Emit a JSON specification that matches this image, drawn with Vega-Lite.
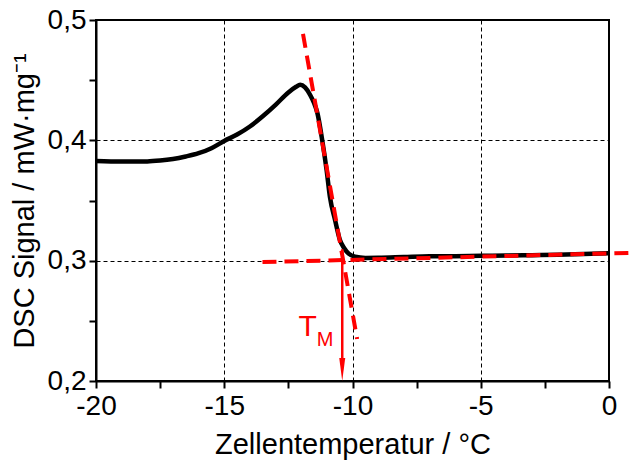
{
  "$schema": "https://vega.github.io/schema/vega-lite/v6.json",
  "width": 513,
  "height": 361,
  "autosize": "none",
  "padding": {"left": 96, "top": 20, "right": 27, "bottom": 84},
  "background": "white",
  "config": {
    "view": {"stroke": "black", "strokeWidth": 2},
    "font": "Liberation Sans",
    "axis": {
      "labelFont": "Liberation Sans",
      "titleFont": "Liberation Sans",
      "labelFontSize": 28,
      "titleFontSize": 29,
      "titleFontWeight": "normal",
      "labelColor": "black",
      "titleColor": "black",
      "domainColor": "black",
      "domainWidth": 2,
      "ticks": true,
      "tickColor": "black",
      "tickWidth": 2,
      "tickSize": 7,
      "gridColor": "black",
      "gridWidth": 1,
      "gridDash": [4, 3]
    }
  },
  "datasets": {
    "curve": [
      {"x": -20, "y": 0.3829},
      {"x": -19, "y": 0.3824},
      {"x": -18, "y": 0.3825},
      {"x": -17.5, "y": 0.3832},
      {"x": -17, "y": 0.3845},
      {"x": -16.5, "y": 0.3866},
      {"x": -16, "y": 0.3893},
      {"x": -15.5, "y": 0.3935},
      {"x": -15, "y": 0.3995},
      {"x": -14.5, "y": 0.4048},
      {"x": -14, "y": 0.4115},
      {"x": -13.5, "y": 0.42},
      {"x": -13, "y": 0.4295},
      {"x": -12.5, "y": 0.4398},
      {"x": -12.2, "y": 0.4445},
      {"x": -12.04, "y": 0.4462},
      {"x": -11.85, "y": 0.444},
      {"x": -11.65, "y": 0.4377},
      {"x": -11.5, "y": 0.431},
      {"x": -11.37, "y": 0.4228},
      {"x": -11.18, "y": 0.4},
      {"x": -11.01, "y": 0.3754},
      {"x": -10.88, "y": 0.353},
      {"x": -10.68, "y": 0.3338},
      {"x": -10.49, "y": 0.3172},
      {"x": -10.33, "y": 0.3105},
      {"x": -10.15, "y": 0.3058},
      {"x": -9.9, "y": 0.3033},
      {"x": -9.5, "y": 0.3023},
      {"x": -9, "y": 0.3024},
      {"x": -8, "y": 0.303},
      {"x": -7, "y": 0.3036},
      {"x": -6, "y": 0.3037},
      {"x": -5, "y": 0.304},
      {"x": -4, "y": 0.3042},
      {"x": -3, "y": 0.3046},
      {"x": -2, "y": 0.305},
      {"x": -1, "y": 0.3055},
      {"x": 0, "y": 0.3061}
    ],
    "baseline": [
      {"x": -13.51, "y": 0.2988},
      {"x": 1.03, "y": 0.3066}
    ],
    "tangent": [
      {"x": -11.93, "y": 0.4884},
      {"x": -9.82, "y": 0.2349}
    ],
    "arrow": [
      {"x": -10.4, "y": 0.3095, "y2": 0.219}
    ],
    "head": [
      {"x": -10.4, "y": 0.2096}
    ],
    "labelT": [
      {"x": -11.75, "y": 0.2374, "text": "T"}
    ],
    "labelM": [
      {"x": -11.07, "y": 0.2291, "text": "M"}
    ]
  },
  "encoding": {
    "x": {
      "field": "x",
      "type": "quantitative",
      "scale": {"domain": [-20, 0], "nice": false, "zero": false},
      "axis": {
        "title": "Zellentemperatur / °C",
        "values": [-20, -17.5, -15, -12.5, -10, -7.5, -5, -2.5, 0],
        "labelExpr": "datum.value % 5 === 0 ? toString(datum.value) : ''",
        "gridOpacity": {"condition": {"test": "datum.value % 5 !== 0 || datum.value === -20 || datum.value === 0", "value": 0}, "value": 1},
        "labelPadding": 4,
        "titlePadding": 10,
        "labelFlush": false
      }
    },
    "y": {
      "field": "y",
      "type": "quantitative",
      "scale": {"domain": [0.2, 0.5], "nice": false, "zero": false},
      "axis": {
        "title": "DSC Signal / mW·mg⁻¹",
        "values": [0.2, 0.25, 0.3, 0.35, 0.4, 0.45, 0.5],
        "labelExpr": "round(datum.value * 100) % 10 === 0 ? replace(format(datum.value, '.1f'), '.', ',') : ''",
        "gridOpacity": {"condition": {"test": "round(datum.value * 100) % 10 !== 0 || round(datum.value * 100) === 20 || round(datum.value * 100) === 50", "value": 0}, "value": 1},
        "labelPadding": 3,
        "titlePadding": 8,
        "labelFlush": false
      }
    }
  },
  "layer": [
    {
      "data": {"name": "curve"},
      "mark": {"type": "line", "color": "black", "strokeWidth": 4.5, "interpolate": "monotone"}
    },
    {
      "data": {"name": "baseline"},
      "mark": {"type": "line", "color": "#ff0000", "strokeWidth": 4, "strokeDash": [14, 8], "clip": false}
    },
    {
      "data": {"name": "tangent"},
      "mark": {"type": "line", "color": "#ff0000", "strokeWidth": 4, "strokeDash": [14, 8]}
    },
    {
      "data": {"name": "arrow"},
      "mark": {"type": "rule", "color": "#ff0000", "strokeWidth": 2.5},
      "encoding": {"y2": {"field": "y2"}}
    },
    {
      "data": {"name": "head"},
      "mark": {"type": "point", "shape": "M-0.26,-1L0.26,-1L0,1Z", "filled": true, "color": "#ff0000", "opacity": 1, "size": 529, "strokeWidth": 0}
    },
    {
      "data": {"name": "labelT"},
      "mark": {"type": "text", "color": "#ff0000", "fontSize": 30, "font": "Liberation Sans", "align": "center", "baseline": "alphabetic"},
      "encoding": {"text": {"field": "text"}}
    },
    {
      "data": {"name": "labelM"},
      "mark": {"type": "text", "color": "#ff0000", "fontSize": 20, "font": "Liberation Sans", "align": "center", "baseline": "alphabetic"},
      "encoding": {"text": {"field": "text"}}
    }
  ]
}
